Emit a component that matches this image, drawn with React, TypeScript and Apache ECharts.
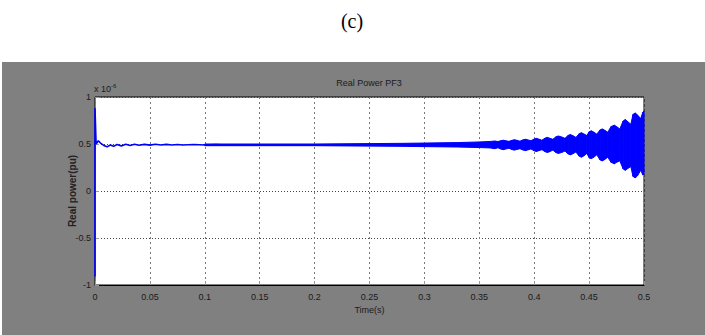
import React, { useEffect, useRef } from "react";
import * as echarts from "echarts";

// Early part of the signal, x 1e-6 pu
const lineT = [0, 0, 0.001, 0.003, 0.005, 0.008, 0.011, 0.014, 0.017, 0.02, 0.024, 0.028, 0.032, 0.036, 0.04, 0.045, 0.05, 0.055, 0.06, 0.065, 0.07, 0.075, 0.08, 0.09, 0.1, 0.11, 0.12, 0.14, 0.16, 0.18, 0.2, 0.22, 0.24, 0.26, 0.28, 0.3];
const lineV = [-0.91, 0.88, 0.5, 0.535, 0.51, 0.485, 0.47, 0.49, 0.475, 0.495, 0.48, 0.498, 0.484, 0.497, 0.486, 0.496, 0.488, 0.497, 0.489, 0.496, 0.49, 0.495, 0.49, 0.494, 0.49, 0.493, 0.49, 0.492, 0.49, 0.492, 0.49, 0.491, 0.49, 0.491, 0.49, 0.49];

// Oscillation envelope (upper / lower)
const bandT = [
  0.1, 0.2, 0.28, 0.3, 0.33, 0.35, 0.36,
  0.364, 0.367, 0.37, 0.372, 0.374,
  0.377, 0.38, 0.382, 0.384,
  0.387, 0.39, 0.392, 0.394,
  0.397, 0.4, 0.402, 0.404,
  0.407, 0.41, 0.412, 0.414,
  0.417, 0.42, 0.422, 0.425,
  0.428, 0.431, 0.433, 0.435,
  0.438, 0.441, 0.443, 0.445,
  0.448, 0.45, 0.452, 0.454,
  0.457, 0.46, 0.462, 0.464,
  0.467, 0.47, 0.473, 0.475,
  0.478, 0.481, 0.483, 0.485,
  0.488, 0.49, 0.492, 0.494,
  0.497, 0.499, 0.5,
];
const bandHi = [
  0.5, 0.5, 0.507, 0.51, 0.515, 0.522, 0.527,
  0.532, 0.526, 0.536, 0.54, 0.535,
  0.528, 0.54, 0.545, 0.54,
  0.53, 0.545, 0.55, 0.544,
  0.535, 0.553, 0.56, 0.553,
  0.54, 0.563, 0.57, 0.562,
  0.55, 0.578, 0.585, 0.575,
  0.56, 0.592, 0.6, 0.59,
  0.57, 0.61, 0.62, 0.608,
  0.59, 0.63, 0.64, 0.628,
  0.605, 0.65, 0.66, 0.648,
  0.625, 0.685, 0.7, 0.685,
  0.66, 0.745, 0.76, 0.74,
  0.71, 0.815, 0.83, 0.81,
  0.77, 0.84, 0.85,
];
const bandLo = [
  0.482, 0.482, 0.475, 0.472, 0.468, 0.462, 0.458,
  0.45, 0.46, 0.445, 0.44, 0.446,
  0.455, 0.44, 0.435, 0.441,
  0.45, 0.435, 0.43, 0.436,
  0.447, 0.428, 0.42, 0.428,
  0.44, 0.418, 0.41, 0.418,
  0.435, 0.408, 0.4, 0.41,
  0.425, 0.393, 0.385, 0.395,
  0.415, 0.37, 0.36, 0.372,
  0.4, 0.355, 0.345, 0.357,
  0.385, 0.33, 0.32, 0.333,
  0.36, 0.305, 0.29, 0.305,
  0.32, 0.235, 0.22, 0.238,
  0.26, 0.155, 0.14, 0.16,
  0.22, 0.17, 0.18,
];

const FONT = "'Liberation Sans Narrow', 'Liberation Sans', Arial, sans-serif";

export default function App() {
  const ref = useRef<HTMLDivElement>(null);
  useEffect(() => {
    if (!ref.current) return;
    const chart = echarts.init(ref.current, null, { renderer: "svg" });
    const fmt = (v: number) => String(+(+v).toFixed(2));
    chart.setOption({
      animation: false,
      backgroundColor: "#ffffff",
      graphic: [
        { type: "rect", left: 2, top: 62, shape: { width: 703, height: 273 }, style: { fill: "#808080" }, z: -10 },
        {
          type: "text", x: 352, y: 21, style: { text: "(c)", font: "20px 'Liberation Serif', 'Times New Roman', serif", fill: "#000", align: "center", verticalAlign: "middle" },
        },
        {
          type: "text", x: 369, y: 83, style: { text: "Real Power PF3", font: `9px ${FONT}`, fill: "#1a1a1a", align: "center", verticalAlign: "middle" },
        },
        {
          type: "text", x: 94, y: 89, style: {
            text: "{a|x 10}{b|-6}", align: "left", verticalAlign: "middle",
            rich: { a: { font: `9px ${FONT}`, fill: "#1a1a1a" }, b: { font: `6px ${FONT}`, fill: "#1a1a1a", verticalAlign: "top", padding: [0, 0, 6, 0] } },
          },
        },
        {
          type: "text", x: 72, y: 191, rotation: Math.PI / 2,
          style: { text: "Real power(pu)", font: "bold 10px 'Liberation Sans', Arial, sans-serif", fill: "#222", align: "center", verticalAlign: "middle" },
        },
      ],
      grid: { left: 95, top: 97, width: 549, height: 188, show: true, backgroundColor: "#ffffff", borderColor: "#000", borderWidth: 1 },
      xAxis: {
        type: "value", min: 0, max: 0.5, interval: 0.05,
        name: "Time(s)", nameLocation: "middle", nameGap: 20,
        nameTextStyle: { fontFamily: FONT, fontSize: 9, color: "#1a1a1a" },
        axisLine: { show: true, onZero: false, lineStyle: { color: "#000", width: 1 } },
        axisTick: { show: true, inside: true, length: 4, lineStyle: { color: "#999" } },
        axisLabel: { formatter: fmt, fontFamily: FONT, fontSize: 9, color: "#1a1a1a", margin: 7 },
        splitLine: { show: true, lineStyle: { color: "#777", type: [2, 3], width: 1 } },
      },
      yAxis: {
        type: "value", min: -1, max: 1, interval: 0.5,
        axisLine: { show: false, onZero: false },
        axisTick: { show: true, inside: true, length: 4, lineStyle: { color: "#999" } },
        axisLabel: { formatter: fmt, fontFamily: FONT, fontSize: 9, color: "#1a1a1a", margin: 4 },
        splitLine: { show: true, lineStyle: { color: "#444", type: [1, 2], width: 1 } },
      },
      series: [
        {
          type: "custom",
          renderItem: (params: any, api: any) => {
            const i = params.dataIndex;
            if (i === 0) return null;
            const p0 = api.coord([bandT[i - 1], bandLo[i - 1]]);
            const p1 = api.coord([bandT[i], bandLo[i]]);
            const p2 = api.coord([bandT[i], bandHi[i]]);
            const p3 = api.coord([bandT[i - 1], bandHi[i - 1]]);
            return {
              type: "polygon",
              shape: { points: [p0, p1, p2, p3] },
              style: { fill: "#0000ff", stroke: "#0000ff", lineWidth: 1 },
            };
          },
          data: bandT.map((t, i) => [t, bandLo[i], bandHi[i]]),
          encode: { x: 0, y: [1, 2] },
          z: 3,
        },
        {
          type: "line",
          data: lineT.map((t, i) => [t, lineV[i]]),
          showSymbol: false,
          lineStyle: { color: "#0000ff", width: 1.6 },
          z: 4,
        },
      ],
    });
    return () => chart.dispose();
  }, []);
  return <div ref={ref} style={{ position: "fixed", left: 0, top: 0, width: 705, height: 335 }} />;
}
